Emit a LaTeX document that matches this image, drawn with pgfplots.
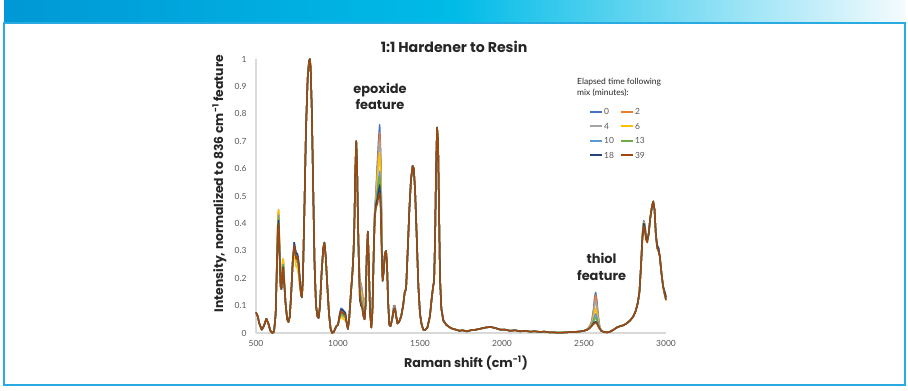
\documentclass[border=0pt]{standalone}
\usepackage{pgfplots}
\usepackage{pgfplotstable}
\usepackage{fontspec}
\setmainfont{Lato}
\newfontfamily\labfont{Poppins}
\pgfplotsset{compat=1.18}
\definecolor{cA}{HTML}{4472C4}
\definecolor{cB}{HTML}{ED7D31}
\definecolor{cC}{HTML}{A5A5A5}
\definecolor{cD}{HTML}{FFC000}
\definecolor{cE}{HTML}{5B9BD5}
\definecolor{cF}{HTML}{70AD47}
\definecolor{cG}{HTML}{264478}
\definecolor{cH}{HTML}{9E480E}
\definecolor{frameblue}{HTML}{29AAE1}
\definecolor{barL}{HTML}{0098D6}
\definecolor{barM}{HTML}{00BBE7}
\definecolor{barR}{HTML}{F4FBFE}
\definecolor{ticktext}{HTML}{595959}
\definecolor{axline}{HTML}{D9D9D9}
\definecolor{labtext}{HTML}{262626}

\pgfplotstableread{
x a b c d e f g h
500 .075 .075 .075 .075 .075 .075 .075 .075
510 .062 .062 .062 .062 .062 .062 .062 .062
520 .035 .035 .035 .035 .035 .035 .035 .035
535 .012 .012 .012 .012 .012 .012 .012 .012
548 .025 .025 .025 .025 .025 .025 .025 .025
563 .052 .052 .052 .052 .052 .052 .052 .052
575 .035 .035 .035 .035 .035 .035 .035 .035
588 .008 .008 .008 .008 .008 .008 .008 .008
600 0 0 0 0 0 0 0 0
610 .005 .005 .005 .005 .005 .005 .005 .005
620 .07 .07 .07 .07 .07 .07 .07 .07
628 .27 .28 .27 .28 .26 .26 .25 .25
634 .41 .43 .42 .43 .40 .40 .39 .38
638 .43 .45 .44 .45 .43 .42 .41 .40
643 .32 .33 .32 .33 .31 .31 .30 .30
650 .17 .17 .17 .17 .17 .17 .17 .17
655 .16 .16 .16 .16 .16 .16 .16 .16
661 .24 .25 .24 .25 .23 .23 .22 .22
666 .26 .27 .26 .27 .25 .25 .24 .235
672 .19 .20 .19 .20 .19 .18 .18 .18
680 .11 .11 .11 .11 .11 .11 .11 .11
690 .05 .05 .05 .05 .05 .05 .05 .05
698 .04 .04 .04 .04 .04 .04 .04 .04
706 .06 .06 .06 .06 .06 .06 .06 .06
715 .15 .15 .15 .15 .15 .15 .15 .15
724 .26 .26 .26 .26 .26 .26 .26 .26
733 .33 .31 .32 .30 .32 .32 .33 .32
738 .31 .28 .30 .27 .30 .30 .31 .30
745 .29 .26 .27 .24 .28 .27 .29 .27
752 .29 .26 .27 .24 .28 .27 .29 .28
760 .26 .23 .24 .21 .25 .24 .26 .25
768 .19 .17 .18 .16 .18 .18 .19 .18
775 .14 .14 .14 .14 .14 .14 .14 .14
780 .13 .13 .13 .13 .13 .13 .13 .13
786 .20 .20 .20 .20 .20 .20 .20 .20
795 .45 .45 .45 .45 .45 .45 .45 .45
805 .75 .75 .75 .75 .75 .75 .75 .75
815 .93 .93 .93 .93 .93 .93 .93 .93
823 .99 .99 .99 .99 .99 .99 .99 .99
828 1 1 1 1 1 1 1 1
833 .97 .97 .97 .97 .97 .97 .97 .97
840 .82 .82 .82 .82 .82 .82 .82 .82
848 .55 .55 .55 .55 .55 .55 .55 .55
857 .25 .25 .25 .25 .25 .25 .25 .25
866 .10 .10 .10 .10 .10 .10 .10 .10
875 .06 .06 .06 .06 .06 .06 .06 .06
882 .055 .055 .055 .055 .055 .055 .055 .055
890 .10 .10 .10 .10 .10 .10 .10 .10
900 .22 .22 .22 .22 .22 .22 .22 .22
910 .31 .31 .31 .31 .31 .31 .31 .31
917 .33 .33 .33 .33 .33 .33 .33 .33
925 .28 .28 .28 .28 .28 .28 .28 .28
935 .17 .17 .17 .17 .17 .17 .17 .17
945 .07 .07 .07 .07 .07 .07 .07 .07
955 .015 .015 .015 .015 .015 .015 .015 .015
964 0 0 0 0 0 0 0 0
975 .005 .005 .005 .005 .005 .005 .005 .005
990 .025 .025 .025 .025 .025 .025 .025 .025
1000 .03 .03 .03 .03 .03 .03 .03 .03
1010 .07 .065 .06 .05 .06 .055 .065 .06
1018 .09 .085 .075 .06 .08 .07 .085 .08
1025 .088 .08 .07 .055 .075 .065 .085 .075
1035 .08 .075 .065 .05 .07 .06 .08 .07
1045 .075 .07 .06 .045 .065 .055 .07 .065
1052 .04 .04 .04 .04 .04 .04 .04 .04
1060 .015 .015 .015 .015 .015 .015 .015 .015
1068 .05 .05 .05 .05 .05 .05 .05 .05
1078 .14 .14 .14 .14 .14 .14 .14 .14
1088 .22 .22 .22 .22 .22 .22 .22 .22
1095 .30 .30 .30 .30 .30 .30 .30 .30
1100 .40 .40 .40 .40 .40 .40 .40 .40
1105 .58 .58 .58 .58 .58 .58 .58 .58
1111 .70 .70 .70 .70 .70 .70 .70 .70
1116 .62 .62 .62 .62 .62 .62 .62 .62
1122 .40 .40 .40 .40 .40 .40 .40 .40
1127 .28 .27 .27 .26 .27 .26 .26 .26
1133 .19 .19 .18 .16 .15 .14 .12 .13
1140 .18 .18 .17 .15 .13 .12 .10 .11
1148 .15 .15 .14 .12 .11 .10 .09 .09
1155 .10 .10 .09 .08 .07 .07 .06 .06
1162 .05 .05 .05 .05 .05 .05 .05 .05
1168 .10 .10 .10 .10 .10 .10 .10 .10
1175 .28 .28 .28 .28 .28 .28 .28 .28
1182 .37 .37 .37 .37 .37 .37 .37 .37
1188 .25 .25 .25 .25 .25 .25 .25 .25
1195 .08 .08 .08 .08 .08 .08 .08 .08
1203 .02 .02 .02 .02 .02 .02 .02 .02
1210 .08 .08 .08 .08 .08 .08 .08 .08
1218 .30 .30 .30 .30 .30 .30 .30 .30
1224 .44 .44 .43 .43 .43 .42 .42 .42
1232 .52 .51 .50 .49 .48 .47 .47 .46
1240 .62 .60 .58 .56 .52 .51 .49 .47
1247 .70 .67 .65 .62 .56 .54 .52 .50
1254 .76 .73 .70 .66 .59 .57 .54 .51
1260 .66 .64 .61 .58 .52 .50 .48 .45
1266 .42 .41 .39 .37 .34 .33 .31 .30
1272 .21 .21 .20 .20 .19 .19 .19 .19
1278 .22 .22 .22 .22 .22 .22 .22 .22
1286 .29 .29 .29 .29 .29 .29 .29 .29
1293 .30 .30 .30 .30 .30 .30 .30 .30
1299 .25 .25 .25 .25 .25 .25 .25 .25
1305 .12 .12 .12 .12 .12 .12 .12 .12
1313 .03 .03 .03 .03 .03 .03 .03 .03
1320 .025 .025 .025 .025 .025 .025 .025 .025
1330 .05 .05 .05 .05 .05 .05 .05 .05
1340 .10 .095 .09 .08 .09 .085 .085 .085
1347 .10 .10 .095 .085 .095 .09 .09 .09
1355 .06 .06 .06 .06 .06 .06 .06 .06
1363 .035 .035 .035 .035 .035 .035 .035 .035
1372 .04 .04 .04 .04 .04 .04 .04 .04
1385 .06 .06 .06 .06 .06 .06 .06 .06
1397 .10 .10 .10 .10 .10 .10 .10 .10
1407 .15 .15 .15 .15 .15 .15 .15 .15
1415 .16 .16 .16 .16 .16 .16 .16 .16
1425 .30 .30 .30 .30 .30 .30 .30 .30
1435 .45 .45 .45 .45 .45 .45 .45 .45
1445 .56 .56 .56 .56 .56 .56 .56 .56
1455 .61 .61 .61 .61 .61 .61 .61 .61
1462 .60 .60 .60 .60 .60 .60 .60 .60
1470 .52 .52 .52 .52 .52 .52 .52 .52
1480 .35 .35 .35 .35 .35 .35 .35 .35
1490 .17 .17 .17 .17 .17 .17 .17 .17
1500 .07 .07 .07 .07 .07 .07 .07 .07
1510 .03 .03 .03 .03 .03 .03 .03 .03
1520 .012 .012 .012 .012 .012 .012 .012 .012
1530 .01 .01 .01 .01 .01 .01 .01 .01
1545 .02 .02 .02 .02 .02 .02 .02 .02
1560 .06 .06 .06 .06 .06 .06 .06 .06
1572 .13 .13 .13 .13 .13 .13 .13 .13
1580 .17 .17 .17 .17 .17 .17 .17 .17
1586 .19 .19 .19 .19 .19 .19 .19 .19
1592 .35 .35 .35 .35 .35 .35 .35 .35
1598 .60 .60 .60 .60 .60 .60 .60 .60
1604 .75 .75 .75 .75 .75 .75 .75 .75
1610 .70 .70 .70 .70 .70 .70 .70 .70
1616 .45 .45 .45 .45 .45 .45 .45 .45
1622 .20 .20 .20 .20 .20 .20 .20 .20
1630 .09 .09 .09 .09 .09 .09 .09 .09
1642 .05 .045 .045 .045 .045 .045 .045 .045
1660 .03 .03 .03 .03 .03 .03 .03 .03
1683 .02 .02 .02 .02 .02 .02 .02 .02
1700 .015 .015 .015 .015 .015 .015 .015 .015
1720 .012 .012 .012 .012 .012 .012 .012 .012
1740 .008 .008 .008 .008 .008 .008 .008 .008
1760 .01 .01 .01 .01 .01 .01 .01 .01
1785 .006 .006 .006 .006 .006 .006 .006 .006
1810 .01 .01 .01 .01 .01 .01 .01 .01
1840 .012 .012 .012 .012 .012 .012 .012 .012
1870 .016 .016 .016 .016 .016 .016 .016 .016
1900 .02 .02 .02 .02 .02 .02 .02 .02
1930 .022 .022 .022 .022 .022 .022 .022 .022
1960 .018 .018 .018 .018 .018 .018 .018 .018
1990 .012 .012 .012 .012 .012 .012 .012 .012
2020 .012 .012 .012 .012 .012 .012 .012 .012
2050 .008 .008 .008 .008 .008 .008 .008 .008
2080 .01 .01 .01 .01 .01 .01 .01 .01
2110 .006 .006 .006 .006 .006 .006 .006 .006
2140 .008 .008 .008 .008 .008 .008 .008 .008
2170 .005 .005 .005 .005 .005 .005 .005 .005
2200 .006 .006 .006 .006 .006 .006 .006 .006
2230 .004 .004 .004 .004 .004 .004 .004 .004
2260 .005 .005 .005 .005 .005 .005 .005 .005
2290 .002 .002 .002 .002 .002 .002 .002 .002
2320 .002 .002 .002 .002 .002 .002 .002 .002
2350 .001 .001 .001 .001 .001 .001 .001 .001
2380 .002 .002 .002 .002 .002 .002 .002 .002
2410 .003 .003 .003 .003 .003 .003 .003 .003
2440 .004 .004 .004 .004 .004 .004 .004 .004
2470 .005 .005 .005 .005 .005 .005 .005 .005
2500 .008 .008 .008 .008 .008 .008 .008 .008
2520 .014 .014 .013 .013 .012 .012 .012 .012
2535 .024 .023 .022 .020 .019 .018 .018 .018
2548 .045 .043 .040 .035 .032 .030 .027 .026
2558 .085 .080 .070 .058 .048 .043 .036 .032
2565 .13 .12 .105 .08 .062 .052 .040 .036
2571 .148 .138 .12 .09 .07 .056 .042 .038
2578 .12 .11 .095 .072 .058 .048 .038 .034
2586 .065 .06 .052 .043 .036 .032 .027 .025
2595 .025 .024 .022 .02 .018 .017 .016 .015
2605 .008 .008 .008 .008 .008 .008 .008 .008
2620 .004 .004 .004 .004 .004 .004 .004 .004
2640 .002 .002 .002 .002 .002 .002 .002 .002
2660 .005 .005 .005 .005 .005 .005 .005 .005
2680 .012 .012 .012 .012 .012 .012 .012 .012
2700 .02 .02 .02 .02 .02 .02 .02 .02
2720 .025 .025 .025 .025 .025 .025 .025 .025
2740 .028 .028 .028 .028 .028 .028 .028 .028
2760 .035 .035 .035 .035 .035 .035 .035 .035
2780 .045 .045 .045 .045 .045 .045 .045 .045
2800 .06 .06 .06 .06 .06 .06 .06 .06
2815 .08 .08 .08 .08 .08 .08 .08 .08
2828 .11 .11 .11 .11 .11 .11 .11 .11
2838 .15 .15 .15 .15 .15 .15 .15 .15
2848 .25 .25 .25 .25 .25 .25 .25 .25
2856 .36 .355 .35 .36 .35 .345 .35 .34
2864 .41 .40 .395 .405 .40 .395 .40 .39
2870 .40 .39 .385 .395 .39 .385 .39 .38
2878 .36 .35 .345 .355 .35 .345 .35 .34
2886 .35 .34 .335 .345 .34 .335 .34 .33
2894 .36 .36 .36 .36 .36 .36 .36 .36
2904 .42 .42 .42 .42 .42 .42 .42 .42
2914 .46 .46 .46 .46 .46 .46 .46 .46
2922 .48 .48 .48 .48 .48 .48 .48 .48
2930 .45 .45 .45 .45 .45 .45 .45 .45
2938 .36 .36 .36 .36 .36 .36 .36 .36
2946 .32 .31 .31 .32 .32 .31 .32 .31
2954 .31 .30 .30 .31 .31 .30 .31 .30
2962 .28 .28 .28 .28 .28 .28 .28 .28
2972 .22 .22 .22 .22 .22 .22 .22 .22
2982 .17 .17 .17 .17 .17 .17 .17 .17
2992 .15 .14 .14 .15 .15 .14 .15 .14
3000 .13 .12 .12 .14 .13 .12 .13 .12
}\spectra

\begin{document}
\begin{tikzpicture}[x=1bp,y=1bp]
\useasboundingbox (0,0) rectangle (908,390);
\fill[white] (0,0) rectangle (908,390);
% header bar
\shade[left color=barL, right color=barR, middle color=barM] (4,367) rectangle (905,389);
% frame
\draw[frameblue, line width=1.5bp] (4,5) rectangle (905,367);

\begin{axis}[
  at={(256bp,57bp)}, anchor=south west,
  scale only axis, width=410bp, height=274bp,
  xmin=500, xmax=3000, ymin=0, ymax=1,
  clip=false,
  axis x line*=bottom, axis y line*=left,
  axis line style={draw=axline, line width=1.2bp, -},
  xtick={500,1000,1500,2000,2500,3000},
  ytick={0,0.1,0.2,0.3,0.4,0.5,0.6,0.7,0.8,0.9,1},
  major tick length=0pt,
  /pgf/number format/assume math mode=true,
  /pgf/number format/1000 sep={},
  yticklabel style={/pgf/number format/fixed, /pgf/number format/precision=1, xshift=-6bp},
  xticklabel style={yshift=-4bp},
  ticklabel style={font=\fontsize{8.5}{10}\selectfont, text=ticktext},
  xlabel={\textbf{Raman shift (cm\textsuperscript{-1})}},
  ylabel={\textbf{Intensity, normalized to 836 cm\textsuperscript{-1} feature}},
  xlabel style={at={(axis description cs:0.512,-0.108)}, anchor=center, font=\labfont\fontsize{12.7}{14}\selectfont, text=labtext},
  ylabel style={at={(axis description cs:-0.0895,0.545)}, anchor=center, rotate=0, font=\labfont\fontsize{12.4}{14}\selectfont, text=labtext},
  legend columns=2,
  legend image code/.code={\draw[#1, line width=2bp] (0bp,0bp) -- (12bp,0bp);},
  legend style={at={(rel axis cs:0.805,0.83)}, anchor=north west, draw=none, fill=none,
    font=\fontsize{8.5}{10}\selectfont, text=ticktext,
    nodes={inner sep=1bp, text height=6bp, text depth=0bp},
    row sep=6.5bp,
    /tikz/every even column/.append style={column sep=5bp}},
  legend cell align=left,
  every axis plot/.append style={line width=1.5bp, line join=round},
]
\addplot[cA] table[x=x,y=a]{\spectra}; \addlegendentry{0}
\addplot[cB] table[x=x,y=b]{\spectra}; \addlegendentry{2}
\addplot[cC] table[x=x,y=c]{\spectra}; \addlegendentry{4}
\addplot[cD] table[x=x,y=d]{\spectra}; \addlegendentry{6}
\addplot[cE] table[x=x,y=e]{\spectra}; \addlegendentry{10}
\addplot[cF] table[x=x,y=f]{\spectra}; \addlegendentry{13}
\addplot[cG] table[x=x,y=g]{\spectra}; \addlegendentry{18}
\addplot[cH] table[x=x,y=h]{\spectra}; \addlegendentry{39}

\node[font=\labfont\fontsize{14.2}{16}\selectfont\bfseries, text=labtext] at (axis description cs:0.483,1.045) {1:1 Hardener to Resin};
\node[font=\labfont\fontsize{13}{16}\selectfont\bfseries, text=labtext, align=center] at (axis cs:1256,0.865) {epoxide\\feature};
\node[font=\labfont\fontsize{13}{17.5}\selectfont\bfseries, text=labtext, align=center] at (axis cs:2607,0.241) {thiol\\feature};
\node[font=\fontsize{8.5}{11}\selectfont, text=labtext, align=left, anchor=north west, inner sep=0pt] at (axis description cs:0.783,0.93) {Elapsed time following\\mix (minutes):};
\end{axis}
\end{tikzpicture}
\end{document}
